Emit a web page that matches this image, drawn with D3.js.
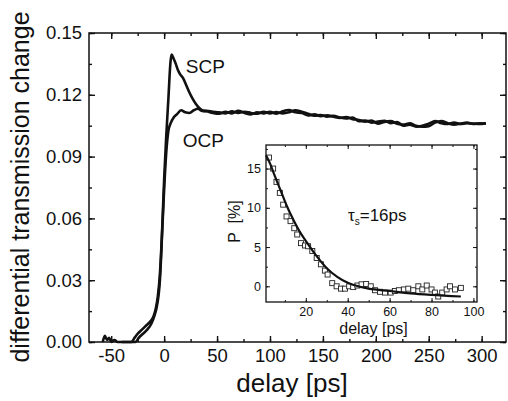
<!DOCTYPE html>
<html>
<head>
<meta charset="utf-8">
<script src="https://cdn.jsdelivr.net/npm/d3@7"></script>
<style>
  body { margin: 0; background: #fff; }
  svg text { font-family: "Liberation Sans", Arial, sans-serif; fill: #111; }
</style>
</head>
<body>
<div class="chart"></div>
<script>
// main panel: delay [ps] vs differential transmission change
const scpDelay = [-58, -56, -54, -52, -50, -47, -44, -40, -36, -33, -31, -28, -25, -21, -17, -13, -10, -8, -6, -4, -3, -2, -1, 0, 2, 4, 6, 7, 9, 11, 13, 15, 18, 21, 24, 27, 30, 34, 37,
  40, 46, 52, 58, 64, 70, 76, 82, 88, 94, 100, 106, 112, 118, 124, 130, 136, 142, 148, 154, 160, 166, 172, 178, 184, 190, 196, 202, 208, 214, 220, 226, 232, 238, 244, 250, 256, 262, 268, 274, 280, 286, 292, 298, 304];
const scpValue = [0.0, 0.003, 0.001, 0.002, 0.0, 0.001, 0.0, 0.0, 0.0, 0.0, 0.0, 0.002, 0.004, 0.006, 0.008, 0.010, 0.0125, 0.016, 0.022, 0.033, 0.042, 0.053, 0.066, 0.079, 0.100, 0.118, 0.136, 0.1395, 0.1375, 0.135, 0.132, 0.130, 0.128, 0.1245, 0.121, 0.118, 0.1155, 0.1132, 0.1122,
  0.1120, 0.1112, 0.1108, 0.1118, 0.1110, 0.1122, 0.1112, 0.1105, 0.1115, 0.1110, 0.1118, 0.1108, 0.1120, 0.1126, 0.1115, 0.1112, 0.1100, 0.1105, 0.1096, 0.1100, 0.1094, 0.1088, 0.1092, 0.1082, 0.1078, 0.1070, 0.1075, 0.1060, 0.1068, 0.1072, 0.1060, 0.1055, 0.1062, 0.1050, 0.1045, 0.1048, 0.1065, 0.1072, 0.1062, 0.1055, 0.1060, 0.1065, 0.1058, 0.1062, 0.1060];

const ocpDelay = [-40, -35, -30, -27, -24, -20, -16, -12, -9, -7, -5, -4, -3, -2, -1, 0, 2, 4, 6, 9, 12, 16, 20, 24, 28, 32, 36,
  40, 46, 52, 58, 64, 70, 76, 82, 88, 94, 100, 106, 112, 118, 124, 130, 136, 142, 148, 154, 160, 166, 172, 178, 184, 190, 196, 202, 208, 214, 220, 226, 232, 238, 244, 250, 256, 262, 268, 274, 280, 286, 292, 298, 304];
const ocpValue = [0.0, 0.0, 0.0, 0.0, 0.002, 0.004, 0.006, 0.009, 0.013, 0.017, 0.024, 0.030, 0.040, 0.052, 0.063, 0.074, 0.092, 0.1025, 0.106, 0.109, 0.1105, 0.1125, 0.1115, 0.1112, 0.1125, 0.1132, 0.1122,
  0.1122, 0.1118, 0.1115, 0.1110, 0.1120, 0.1112, 0.1118, 0.1112, 0.1108, 0.1118, 0.1110, 0.1116, 0.1110, 0.1115, 0.1125, 0.1118, 0.1108, 0.1098, 0.1102, 0.1094, 0.1098, 0.1090, 0.1085, 0.1090, 0.1072, 0.1075, 0.1065, 0.1070, 0.1074, 0.1062, 0.1068, 0.1050, 0.1055, 0.1045, 0.1050, 0.1060, 0.1072, 0.1062, 0.1058, 0.1065, 0.1058, 0.1062, 0.1060, 0.1058, 0.1062];

const xTicks = [-50, 0, 50, 100, 150, 200, 250, 300];
const yTicks = [0.00, 0.03, 0.06, 0.09, 0.12, 0.15];

// inset: polarization decay
const pDelay = [2.4, 4.4, 6.0, 7.6, 9.2, 10.8, 12.7, 14.5, 15.9, 17.7, 19.6, 21.1, 23.1, 25.2, 27.2, 29.1, 30.4, 32.6, 34.7, 36.8, 38.7, 40.7, 42.6, 44.6, 46.6, 48.8, 51, 53, 55.4, 57.8, 60.5, 62.5, 64.4, 66.8, 68.9, 71.3, 73.7, 75.6, 77.7, 80, 81.6, 83.2, 85.1, 87.2, 88.8, 91.2, 94];
const pValue = [16.4, 15.0, 13.3, 11.9, 10.4, 8.9, 8.3, 7.4, 6.6, 5.5, 5.2, 5.1, 4.5, 3.6, 2.8, 2.0, 1.5, 0.4, 0.0, -0.3, -0.3, 0.0, -0.1, 0.1, 0.25, 0.3, 0.0, -0.5, -0.7, -0.8, -0.8, -0.6, -0.5, -0.4, -0.3, -0.5, 0.0, -0.4, 0.1, -0.4, -0.8, -1.3, -0.8, -0.4, 0.0, -0.4, -0.2];
const fitDelay = [1, 3, 5, 8, 11, 14, 17, 20, 25, 30, 35, 40, 45, 50, 60, 70, 80, 94];
const fitValue = [16.7, 15.6, 14.2, 12.2, 10.2, 8.5, 7.0, 5.8, 3.9, 2.3, 1.2, 0.45, 0.0, -0.3, -0.6, -0.9, -1.1, -1.3];
const insetXTicks = [20, 40, 60, 80, 100];
const insetYTicks = [0, 5, 10, 15];

const outerWidth = 508;
const outerHeight = 401;
const margin = {top: 33, right: 2, bottom: 59, left: 89};
const width = outerWidth - margin.left - margin.right;
const height = outerHeight - margin.top - margin.bottom;

const svg = d3.select('.chart').append('svg')
    .attr('width', outerWidth)
    .attr('height', outerHeight);

const g = svg.append('g')
    .attr('transform', `translate(${margin.left}, ${margin.top})`);

// Scales
const x = d3.scaleLinear().domain([-71, 323]).range([0, width]);
const y = d3.scaleLinear().domain([0, 0.15]).range([height, 0]);

// ticks inward on all four sides
function ticks(sel, axisFn, scale, values, size, fmt) {
    const a = axisFn(scale).tickValues(values).tickSizeInner(-size).tickSizeOuter(0).tickPadding(7);
    if (fmt) a.tickFormat(fmt); else a.tickFormat('');
    sel.call(a);
    sel.select('.domain').remove();
    sel.selectAll('line').attr('stroke', '#111').attr('stroke-width', 1.4);
    return sel;
}

const xMinor = d3.range(-50, 325, 25);
const yMinor = d3.range(0, 0.151, 0.015);

ticks(g.append('g').attr('transform', `translate(0, ${height})`), d3.axisBottom, x, xMinor, 3);
ticks(g.append('g').attr('transform', `translate(0, ${height})`), d3.axisBottom, x, xTicks, 6, d3.format('d'))
    .selectAll('text').attr('font-size', 18.5).text(d => d < 0 ? '-' + Math.abs(d) : d);
ticks(g.append('g'), d3.axisTop, x, xMinor, 3);
ticks(g.append('g'), d3.axisTop, x, xTicks, 6);
ticks(g.append('g'), d3.axisLeft, y, yMinor, 3);
ticks(g.append('g'), d3.axisLeft, y, yTicks, 6, d3.format('.2f'))
    .selectAll('text').attr('font-size', 18.5);
ticks(g.append('g').attr('transform', `translate(${width}, 0)`), d3.axisRight, y, yMinor, 3);
ticks(g.append('g').attr('transform', `translate(${width}, 0)`), d3.axisRight, y, yTicks, 6);

g.append('rect')
    .attr('width', width).attr('height', height)
    .attr('fill', 'none').attr('stroke', '#111').attr('stroke-width', 1.5);

// Curves
const line = d3.line().curve(d3.curveMonotoneX).x(d => x(d[0])).y(d => y(d[1]));
const scp = scpDelay.map((t, i) => [t, scpValue[i]]);
const ocp = ocpDelay.map((t, i) => [t, ocpValue[i]]);

g.append('path').datum(ocp).attr('d', line)
    .attr('fill', 'none').attr('stroke', '#111').attr('stroke-width', 2.6).attr('stroke-linejoin', 'round');
g.append('path').datum(scp).attr('d', line)
    .attr('fill', 'none').attr('stroke', '#111').attr('stroke-width', 2.6).attr('stroke-linejoin', 'round');

g.append('text').attr('x', x(20.5)).attr('y', y(0.1305)).attr('font-size', 19).text('SCP');
g.append('text').attr('x', x(17.5)).attr('y', y(0.0945)).attr('font-size', 19).text('OCP');

// Axis labels
svg.append('text')
    .attr('x', 292).attr('y', 392)
    .attr('text-anchor', 'middle')
    .attr('font-size', 26)
    .text('delay [ps]');
svg.append('text')
    .attr('transform', 'translate(29, 187) rotate(-90)')
    .attr('text-anchor', 'middle')
    .attr('font-size', 25)
    .text('differential transmission change');

// Inset
const inset = {left: 266, top: 145, right: 477, bottom: 302};
const iw = inset.right - inset.left;
const ih = inset.bottom - inset.top;
const gi = svg.append('g').attr('transform', `translate(${inset.left}, ${inset.top})`);

const xi = d3.scaleLinear().domain([1, 101.7]).range([0, iw]);
const yi = d3.scaleLinear().domain([-2, 18]).range([ih, 0]);

gi.append('rect').attr('width', iw).attr('height', ih).attr('fill', '#fff');

const xiMinor = d3.range(10, 101, 10);
const yiMinor = d3.range(-2.5, 18, 2.5).filter(v => v >= -2);

function iticks(sel, axisFn, scale, values, size, fmt) {
    const a = axisFn(scale).tickValues(values).tickSizeInner(-size).tickSizeOuter(0).tickPadding(5);
    if (fmt) a.tickFormat(fmt); else a.tickFormat('');
    sel.call(a);
    sel.select('.domain').remove();
    sel.selectAll('line').attr('stroke', '#111').attr('stroke-width', 1);
    sel.selectAll('text').attr('font-size', 12.5);
    return sel;
}

iticks(gi.append('g').attr('transform', `translate(0, ${ih})`), d3.axisBottom, xi, xiMinor, 2);
iticks(gi.append('g').attr('transform', `translate(0, ${ih})`), d3.axisBottom, xi, insetXTicks, 4, d3.format('d'));
iticks(gi.append('g'), d3.axisTop, xi, xiMinor, 2);
iticks(gi.append('g'), d3.axisTop, xi, insetXTicks, 4);
iticks(gi.append('g'), d3.axisLeft, yi, yiMinor, 2);
iticks(gi.append('g'), d3.axisLeft, yi, insetYTicks, 4, d3.format('d'));
iticks(gi.append('g').attr('transform', `translate(${iw}, 0)`), d3.axisRight, yi, yiMinor, 2);
iticks(gi.append('g').attr('transform', `translate(${iw}, 0)`), d3.axisRight, yi, insetYTicks, 4);

gi.append('rect').attr('width', iw).attr('height', ih)
    .attr('fill', 'none').attr('stroke', '#111').attr('stroke-width', 1.3);

const fit = fitDelay.map((t, i) => [t, fitValue[i]]);
const iline = d3.line().curve(d3.curveMonotoneX).x(d => xi(d[0])).y(d => yi(d[1]));

gi.selectAll('rect.pt')
    .data(pDelay.map((t, i) => [t, pValue[i]]))
    .join('rect')
    .attr('class', 'pt')
    .attr('x', d => xi(d[0]) - 2.5)
    .attr('y', d => yi(d[1]) - 2.5)
    .attr('width', 5).attr('height', 5)
    .attr('fill', '#fff').attr('stroke', '#222').attr('stroke-width', 0.9);

gi.append('path').datum(fit).attr('d', iline)
    .attr('fill', 'none').attr('stroke', '#111').attr('stroke-width', 2.2);

const tau = gi.append('text').attr('x', 82).attr('y', 76).attr('font-size', 17);
tau.append('tspan').text('τ');
tau.append('tspan').attr('font-size', 10).attr('dy', 4).text('s');
tau.append('tspan').attr('dy', -4).text('=16ps');

gi.append('text')
    .attr('x', iw / 2 + 2).attr('y', ih + 32)
    .attr('text-anchor', 'middle')
    .attr('font-size', 16)
    .text('delay [ps]');
gi.append('text')
    .attr('transform', `translate(-26, ${ih / 2 - 2}) rotate(-90)`)
    .attr('text-anchor', 'middle')
    .attr('font-size', 16)
    .attr('xml:space', 'preserve')
    .text('P  [%]');
</script>
</body>
</html>
